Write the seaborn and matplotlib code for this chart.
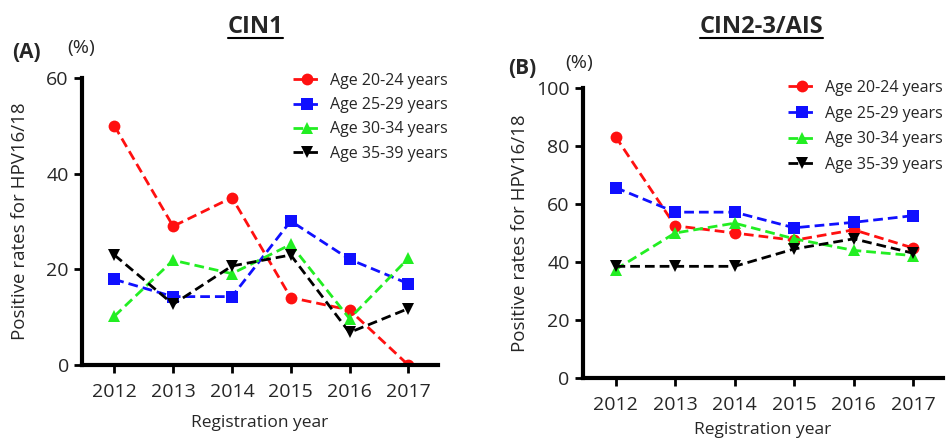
import matplotlib
matplotlib.use("Agg")
import matplotlib.pyplot as plt
from matplotlib.lines import Line2D
import seaborn as sns
import pandas as pd

# Data
years = [2012, 2013, 2014, 2015, 2016, 2017]
groups = ["Age 20-24 years", "Age 25-29 years", "Age 30-34 years", "Age 35-39 years"]

cin1_20_24 = [50.0, 29.0, 35.0, 14.1, 11.5, 0.0]
cin1_25_29 = [17.9, 14.3, 14.3, 30.1, 22.1, 17.0]
cin1_30_34 = [10.2, 21.9, 19.1, 25.2, 9.7, 22.3]
cin1_35_39 = [23.0, 12.7, 20.7, 23.0, 6.8, 11.8]

cin23_20_24 = [83.3, 52.5, 50.0, 47.5, 51.1, 44.8]
cin23_25_29 = [65.7, 57.2, 57.2, 51.8, 53.7, 56.0]
cin23_30_34 = [37.4, 50.0, 53.4, 48.0, 44.0, 42.2]
cin23_35_39 = [38.5, 38.5, 38.5, 44.5, 48.0, 43.0]

colors = ["#ff1010", "#1010ff", "#22ee22", "#000000"]
markers = ["o", "s", "^", "v"]


def to_long(series):
    rows = []
    for g, vals in zip(groups, series):
        for y, v in zip(years, vals):
            rows.append({"year": y, "rate": v, "group": g})
    return pd.DataFrame(rows)


cin1 = to_long([cin1_20_24, cin1_25_29, cin1_30_34, cin1_35_39])
cin23 = to_long([cin23_20_24, cin23_25_29, cin23_30_34, cin23_35_39])

sns.set_theme(style="ticks")
plt.rcParams["font.family"] = ["Open Sans", "DejaVu Sans"]

fig = plt.figure(figsize=(9.46, 4.43), dpi=100)
ax1 = fig.add_axes([0.0867, 0.176, 0.376, 0.648])
ax2 = fig.add_axes([0.616, 0.147, 0.381, 0.654])


def draw(ax, df, ymax, ystep, leg_x, leg_y, spacing, xpad):
    sns.lineplot(data=df, x="year", y="rate", hue="group", style="group",
                 palette=colors, markers=markers, dashes=[(3.5, 1.8)] * 4,
                 markersize=8.5, markeredgewidth=0, linewidth=2, ax=ax)
    ax.set_xlim(2011.45, 2017.5)
    ax.set_ylim(0, ymax)
    ax.set_xticks(years)
    ax.set_yticks(range(0, ymax + 1, ystep))
    ax.tick_params(labelsize=14, width=2, length=6, color="black")
    ax.tick_params(axis="x", pad=7)
    for s in ["top", "right"]:
        ax.spines[s].set_visible(False)
    for s in ["left", "bottom"]:
        ax.spines[s].set_linewidth(3)
        ax.spines[s].set_color("black")
    ax.set_xlabel("Registration year", fontsize=12.5, labelpad=xpad)
    ax.set_ylabel("Positive rates for HPV16/18", fontsize=13.5)
    ax.yaxis.set_label_coords(-0.15, 0.5)
    ax.legend(loc="upper left", bbox_to_anchor=(leg_x, leg_y), frameon=False,
              fontsize=11.5, handlelength=1.8, handletextpad=0.5,
              labelspacing=spacing, borderaxespad=0.0)


draw(ax1, cin1, 60, 20, 0.575, 1.04, 0.52, 10)
draw(ax2, cin23, 100, 20, 0.552, 1.05, 0.6, 6)

# Titles (bold, underlined) and panel labels
t1 = fig.text(0.27, 0.94, "CIN1", fontsize=17, fontweight="bold", ha="center", va="center")
t2 = fig.text(0.805, 0.94, "CIN2-3/AIS", fontsize=17, fontweight="bold", ha="center", va="center")
fig.text(0.013, 0.882, "(A)", fontsize=15, fontweight="bold", va="center")
fig.text(0.071, 0.892, "(%)", fontsize=14, va="center")
fig.text(0.537, 0.846, "(B)", fontsize=15, fontweight="bold", va="center")
fig.text(0.598, 0.858, "(%)", fontsize=14, va="center")

fig.canvas.draw()
r = fig.canvas.get_renderer()
for t in (t1, t2):
    bb = t.get_window_extent(r).transformed(fig.transFigure.inverted())
    fig.add_artist(Line2D([bb.x0, bb.x1], [bb.y0 + 0.002, bb.y0 + 0.002],
                          transform=fig.transFigure, color="black", linewidth=1.5))

fig.savefig("out.png", dpi=100)
